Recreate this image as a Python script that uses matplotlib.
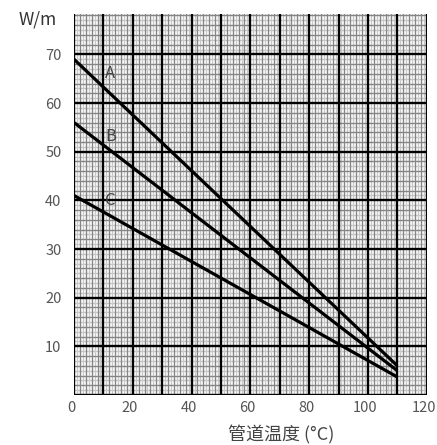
import numpy as np
import matplotlib
matplotlib.use("Agg")
import matplotlib.pyplot as plt
import matplotlib.transforms as mtransforms
from matplotlib import font_manager

plt.rcParams['font.family'] = ['Noto Sans CJK SC', 'DejaVu Sans']

# Data
temp = [0, 110]
series_A = [69.0, 6.0]
series_B = [56.0, 5.0]
series_C = [41.0, 3.7]
curve_names = ["A", "B", "C"]
label_pos = [(12.4, 66.0), (12.4, 53.2), (12.4, 40.0)]
xticks = [0, 20, 40, 60, 80, 100, 120]
yticks = [10, 20, 30, 40, 50, 60, 70]
xlabel = "管道温度 (°C)"
ylabel = "W/m"

available = {f.name for f in font_manager.fontManager.ttflist}
tick_family = ['Liberation Sans Narrow'] if 'Liberation Sans Narrow' in available else ['Noto Sans CJK SC']
tick_size = 11 if 'Liberation Sans Narrow' in available else 10.5

fig = plt.figure(figsize=(4.37, 4.45), dpi=100)
ax = fig.add_axes([74/437, 1-395/445, 352.7/437, 381/445])
xmin, xmax, ymin, ymax = 0, 120, 0, 78.3
ax.set_xlim(xmin, xmax)
ax.set_ylim(ymin, ymax)

# grid: light (odd units), mid gray (even units), black (every 10)
xs = np.arange(0, 121)
ys = np.arange(0, 79)
light = '#c8c8c8'
mid = '#858585'
for v in xs:
    if v % 10 == 0:
        continue
    c = mid if v % 2 == 0 else light
    ax.axvline(v, color=c, lw=1.0, zorder=1 if c == light else 2)
for v in ys:
    if v % 10 == 0:
        continue
    c = mid if v % 2 == 0 else light
    ax.axhline(v, color=c, lw=1.0, zorder=1 if c == light else 2)
for v in range(0, 121, 10):
    ax.axvline(v, color='black', lw=1.7, zorder=3)
for v in range(0, 71, 10):
    ax.axhline(v, color='black', lw=1.7, zorder=3)

for s in ax.spines.values():
    s.set_visible(False)

for ys_, name, (lx, ly) in zip([series_A, series_B, series_C], curve_names, label_pos):
    ax.plot(temp, ys_, color='black', lw=2.3, solid_capstyle='butt', zorder=5)
    ax.text(lx, ly, name, fontsize=12, color='#444444', ha='center', va='center', zorder=6)

ax.set_xticks(xticks)
ax.set_yticks(yticks)
ax.tick_params(length=0, labelcolor='#555555')
ax.tick_params(axis='x', pad=4)
ax.tick_params(axis='y', pad=9)
shift = mtransforms.ScaledTranslation(-3/100, 0, fig.dpi_scale_trans)
for lab in ax.get_xticklabels():
    lab.set_fontfamily(tick_family)
    lab.set_fontsize(tick_size)
    lab.set_transform(lab.get_transform() + shift)
for lab in ax.get_yticklabels():
    lab.set_fontfamily(tick_family)
    lab.set_fontsize(tick_size)

fig.text(38/437, 1-20/445, ylabel, fontsize=12.5, color='#333333', ha='center', va='center')
fig.text(281/437, 1-435/445, xlabel, fontsize=13, color='#444444', ha='center', va='center')

fig.savefig('out.png', dpi=100)
